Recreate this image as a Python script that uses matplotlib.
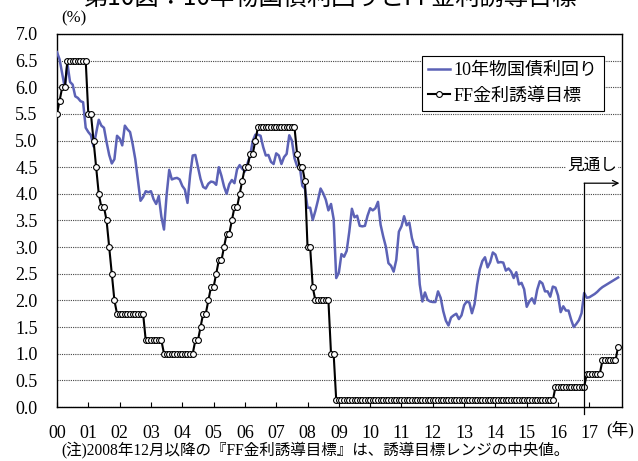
import numpy as np
import matplotlib.pyplot as plt

plt.rcParams['font.family'] = ['Liberation Serif', 'Noto Sans CJK JP']

# monthly values, Jan 2000 - Nov 2016 (actual)
ust10y_rows = [
    [6.66, 6.52, 6.26, 5.99, 6.44, 6.10, 6.05, 5.83, 5.80, 5.74, 5.72, 5.24],
    [5.16, 5.10, 4.89, 5.14, 5.39, 5.28, 5.24, 4.97, 4.73, 4.57, 4.65, 5.09],
    [5.04, 4.91, 5.28, 5.21, 5.16, 4.93, 4.65, 4.26, 3.87, 3.94, 4.05, 4.03],
    [4.05, 3.90, 3.81, 3.96, 3.57, 3.33, 3.98, 4.45, 4.27, 4.29, 4.30, 4.27],
    [4.15, 4.08, 3.83, 4.35, 4.72, 4.73, 4.50, 4.28, 4.13, 4.10, 4.19, 4.23],
    [4.22, 4.17, 4.50, 4.34, 4.14, 4.00, 4.18, 4.26, 4.20, 4.46, 4.54, 4.47],
    [4.42, 4.57, 4.72, 4.99, 5.11, 5.11, 5.09, 4.88, 4.72, 4.73, 4.60, 4.56],
    [4.76, 4.72, 4.56, 4.69, 4.75, 5.10, 5.00, 4.67, 4.52, 4.53, 4.15, 4.10],
    [3.74, 3.74, 3.51, 3.68, 3.88, 4.10, 4.01, 3.89, 3.69, 3.81, 3.53, 2.42],
    [2.52, 2.87, 2.82, 2.93, 3.29, 3.72, 3.56, 3.59, 3.40, 3.39, 3.40, 3.59],
    [3.73, 3.69, 3.73, 3.85, 3.42, 3.20, 3.01, 2.70, 2.65, 2.54, 2.76, 3.29],
    [3.39, 3.58, 3.41, 3.46, 3.17, 3.00, 3.00, 2.30, 1.98, 2.15, 2.01, 1.98],
    [1.97, 1.97, 2.17, 2.05, 1.80, 1.62, 1.53, 1.68, 1.72, 1.75, 1.65, 1.72],
    [1.91, 1.98, 1.96, 1.76, 1.93, 2.30, 2.58, 2.74, 2.81, 2.62, 2.72, 2.90],
    [2.86, 2.71, 2.72, 2.71, 2.56, 2.60, 2.54, 2.42, 2.53, 2.30, 2.33, 2.21],
    [1.88, 1.98, 2.04, 1.94, 2.20, 2.36, 2.32, 2.17, 2.17, 2.07, 2.26, 2.24],
    [2.09, 1.78, 1.89, 1.81, 1.81, 1.64, 1.50, 1.56, 1.63, 1.76, 2.14],
]
# Dec 2016 - Dec 2017 (forecast)
ust10y_forecast = [2.05, 2.06, 2.09, 2.12, 2.16, 2.21, 2.25, 2.28, 2.31, 2.34, 2.37, 2.40, 2.43]

ff_rows = [
    [5.5, 5.75, 6.0, 6.0, 6.5, 6.5, 6.5, 6.5, 6.5, 6.5, 6.5, 6.5],
    [5.5, 5.5, 5.0, 4.5, 4.0, 3.75, 3.75, 3.5, 3.0, 2.5, 2.0, 1.75],
    [1.75, 1.75, 1.75, 1.75, 1.75, 1.75, 1.75, 1.75, 1.75, 1.75, 1.25, 1.25],
    [1.25, 1.25, 1.25, 1.25, 1.25, 1.0, 1.0, 1.0, 1.0, 1.0, 1.0, 1.0],
    [1.0, 1.0, 1.0, 1.0, 1.0, 1.25, 1.25, 1.5, 1.75, 1.75, 2.0, 2.25],
    [2.25, 2.5, 2.75, 2.75, 3.0, 3.25, 3.25, 3.5, 3.75, 3.75, 4.0, 4.25],
    [4.5, 4.5, 4.75, 4.75, 5.0, 5.25, 5.25, 5.25, 5.25, 5.25, 5.25, 5.25],
    [5.25, 5.25, 5.25, 5.25, 5.25, 5.25, 5.25, 5.25, 4.75, 4.5, 4.5, 4.25],
    [3.0, 3.0, 2.25, 2.0, 2.0, 2.0, 2.0, 2.0, 2.0, 1.0, 1.0, 0.125],
    [0.125, 0.125, 0.125, 0.125, 0.125, 0.125, 0.125, 0.125, 0.125, 0.125, 0.125, 0.125],
    [0.125, 0.125, 0.125, 0.125, 0.125, 0.125, 0.125, 0.125, 0.125, 0.125, 0.125, 0.125],
    [0.125, 0.125, 0.125, 0.125, 0.125, 0.125, 0.125, 0.125, 0.125, 0.125, 0.125, 0.125],
    [0.125, 0.125, 0.125, 0.125, 0.125, 0.125, 0.125, 0.125, 0.125, 0.125, 0.125, 0.125],
    [0.125, 0.125, 0.125, 0.125, 0.125, 0.125, 0.125, 0.125, 0.125, 0.125, 0.125, 0.125],
    [0.125, 0.125, 0.125, 0.125, 0.125, 0.125, 0.125, 0.125, 0.125, 0.125, 0.125, 0.125],
    [0.125, 0.125, 0.125, 0.125, 0.125, 0.125, 0.125, 0.125, 0.125, 0.125, 0.125, 0.375],
    [0.375, 0.375, 0.375, 0.375, 0.375, 0.375, 0.375, 0.375, 0.375, 0.375, 0.375],
]
ff_forecast = [0.625, 0.625, 0.625, 0.625, 0.625, 0.625,
               0.875, 0.875, 0.875, 0.875, 0.875, 0.875, 1.125]

year_labels = ['00', '01', '02', '03', '04', '05', '06', '07', '08',
               '09', '10', '11', '12', '13', '14', '15', '16', '17']

ust10y = [v for row in ust10y_rows for v in row] + ust10y_forecast
ff = [v for row in ff_rows for v in row] + ff_forecast
x = np.arange(len(ust10y))
forecast_start = len(ust10y) - len(ust10y_forecast) - 1

fig = plt.figure(figsize=(6.38, 4.61), dpi=100)
ax = fig.add_axes([57 / 638, 54 / 461, 565 / 638, 373 / 461])

ax.plot(x, ust10y, color='#5c62b6', lw=1.8, label='10年物国債利回り', zorder=3)
ax.plot(x, ff, color='black', lw=1.5, marker='o', markersize=4.2,
        markerfacecolor='white', markeredgecolor='black', markeredgewidth=0.8,
        label='FF金利誘導目標', zorder=4)

ax.set_xlim(0, 216.5)
ax.set_ylim(0, 7)
ax.set_yticks(np.arange(0, 7.01, 0.5))
ax.set_yticklabels([f'{v:.1f}' for v in np.arange(0, 7.01, 0.5)])
ax.set_xticks(np.arange(len(year_labels)) * 12)
ax.set_xticklabels(year_labels)
ax.tick_params(axis='y', length=0, pad=14, labelsize=13)
ax.tick_params(axis='x', direction='in', length=3.6, width=0.8, pad=13, labelsize=13)
ax.grid(axis='y', color='#444444', linestyle=(0, (1, 1)), lw=0.8)
for s in ax.spines.values():
    s.set_color('black')
    s.set_linewidth(1.0)

leg = ax.legend(loc='upper right', bbox_to_anchor=(0.968, 0.941), borderaxespad=0,
                fontsize=13, numpoints=1, handlelength=1.2, handletextpad=0.2,
                fancybox=False, framealpha=1, edgecolor='black',
                borderpad=0.35, labelspacing=0.45)
leg.get_frame().set_linewidth(0.8)

# forecast marker
ax.plot([forecast_start, forecast_start], [4.2, -0.13], color='black', lw=0.9,
        clip_on=False, zorder=5)
ax.annotate('', xy=(215.5, 4.2), xytext=(forecast_start, 4.2),
            arrowprops=dict(arrowstyle='->', color='black', lw=0.9,
                            shrinkA=0, shrinkB=0, mutation_scale=10))
ax.text(205, 4.54, '見通し', ha='center', va='center', fontsize=12,
        family=['Noto Sans CJK JP'], zorder=6,
        bbox=dict(facecolor='white', edgecolor='none', pad=0.5))

fig.text(0.517, 1 + 1.5 / 461, '第10図：10年物国債利回りとFF金利誘導目標',
         ha='center', va='center', fontsize=17.5, family=['Noto Sans CJK JP'])
fig.text(61 / 638, 1 - 18 / 461, '(%)', ha='left', va='center', fontsize=12)
fig.text(606 / 638, 1 - 430 / 461, '(年)', ha='left', va='center', fontsize=12)
fig.text(61 / 638, 1 - 451 / 461,
         '(注)2008年12月以降の『FF金利誘導目標』は、誘導目標レンジの中央値。',
         ha='left', va='center', fontsize=11.2)

fig.savefig('out.png', dpi=100)
